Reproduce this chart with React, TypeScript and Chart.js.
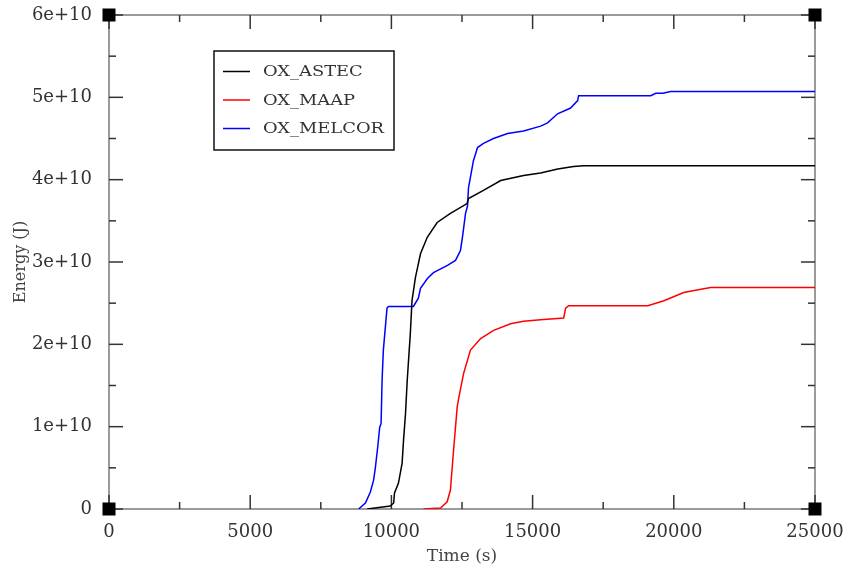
import React, { useEffect, useRef } from 'react';
import { Chart, registerables } from 'chart.js';
Chart.register(...registerables);

const X_MIN = 0;
const X_MAX = 25000;
const X_STEP = 5000;
const X_MINOR = 2500;
const Y_MIN = 0;
const Y_MAX = 6e10;
const Y_STEP = 1e10;
const Y_MINOR = 5e9;

const X_TITLE = 'Time (s)';
const Y_TITLE = 'Energy (J)';

const SERIES_LABELS = ['OX_ASTEC', 'OX_MAAP', 'OX_MELCOR'];
const SERIES_COLORS = ['#000000', '#ff0000', '#0000ff'];

const ASTEC_TIME = [9140, 9960, 10080, 10110, 10250, 10380, 10430, 10500, 10560, 10670, 10730, 10850, 11030, 11270, 11620, 12090, 12680, 12730, 13260, 13870, 14680, 15280, 15890, 16450, 16810, 25000];
const ASTEC_ENERGY = [0, 0.036e10, 0.073e10, 0.194e10, 0.315e10, 0.558e10, 0.836e10, 1.16e10, 1.56e10, 2.13e10, 2.53e10, 2.81e10, 3.10e10, 3.30e10, 3.48e10, 3.59e10, 3.71e10, 3.77e10, 3.87e10, 3.99e10, 4.05e10, 4.08e10, 4.13e10, 4.16e10, 4.17e10, 4.17e10];

const MAAP_TIME = [11135, 11740, 11975, 12090, 12210, 12330, 12390, 12560, 12800, 13160, 13620, 14220, 14680, 15280, 16100, 16170, 16280, 19080, 19650, 20350, 20960, 21310, 25000];
const MAAP_ENERGY = [0, 0.012e10, 0.088e10, 0.23e10, 0.75e10, 1.24e10, 1.36e10, 1.65e10, 1.93e10, 2.07e10, 2.17e10, 2.25e10, 2.28e10, 2.30e10, 2.32e10, 2.44e10, 2.47e10, 2.47e10, 2.53e10, 2.63e10, 2.67e10, 2.69e10, 2.69e10];

const MELCOR_TIME = [8840, 9080, 9255, 9370, 9430, 9515, 9585, 9635, 9670, 9715, 9845, 9895, 10780, 10955, 11030, 11275, 11490, 11985, 12270, 12445, 12515, 12625, 12695, 12730, 12905, 13050, 13260, 13615, 14115, 14680, 15285, 15530, 15885, 16345, 16595, 16630, 19185, 19360, 19610, 19895, 25000];
const MELCOR_ENERGY = [0, 0.073e10, 0.206e10, 0.35e10, 0.497e10, 0.75e10, 0.99e10, 1.04e10, 1.56e10, 1.93e10, 2.44e10, 2.46e10, 2.46e10, 2.56e10, 2.68e10, 2.80e10, 2.87e10, 2.96e10, 3.02e10, 3.14e10, 3.30e10, 3.59e10, 3.68e10, 3.90e10, 4.23e10, 4.39e10, 4.44e10, 4.50e10, 4.56e10, 4.59e10, 4.65e10, 4.69e10, 4.80e10, 4.87e10, 4.96e10, 5.02e10, 5.02e10, 5.05e10, 5.05e10, 5.07e10, 5.07e10];

const SERIES_TIME = [ASTEC_TIME, MAAP_TIME, MELCOR_TIME];
const SERIES_ENERGY = [ASTEC_ENERGY, MAAP_ENERGY, MELCOR_ENERGY];

const zip = (xs: number[], ys: number[]) => xs.map((x, i) => ({ x, y: ys[i] }));

const framePlugin = {
  id: 'frame',
  beforeDatasetsDraw(chart: any) {
    const { ctx, chartArea, scales } = chart;
    const { left, right, top, bottom } = chartArea;
    const xs = scales.x;
    const ys = scales.y;
    ctx.save();
    ctx.strokeStyle = '#9a9a9a';
    ctx.lineWidth = 2;
    ctx.strokeRect(left, top, right - left, bottom - top);
    ctx.strokeStyle = '#333';
    ctx.lineWidth = 1.5;
    const seg = (a: number, b: number, c: number, d: number) => {
      ctx.beginPath();
      ctx.moveTo(a, b);
      ctx.lineTo(c, d);
      ctx.stroke();
    };
    for (let v = X_MIN; v <= X_MAX; v += X_MINOR) {
      const px = xs.getPixelForValue(v);
      const len = v % X_STEP === 0 ? 14 : 7;
      seg(px, bottom, px, bottom - len);
      seg(px, top, px, top + len);
    }
    for (let v = Y_MIN; v <= Y_MAX + 1; v += Y_MINOR) {
      const py = ys.getPixelForValue(v);
      const len = Math.abs(v / Y_STEP - Math.round(v / Y_STEP)) < 1e-6 ? 14 : 7;
      seg(left, py, left + len, py);
      seg(right, py, right - len, py);
    }
    ctx.restore();
  },
};

const legendPlugin = {
  id: 'boxLegend',
  afterDraw(chart: any) {
    const { ctx } = chart;
    const bx = 214, by = 51, bw = 180, bh = 99;
    ctx.save();
    ctx.fillStyle = '#ffffff';
    ctx.fillRect(bx, by, bw, bh);
    ctx.strokeStyle = '#111';
    ctx.lineWidth = 1.5;
    ctx.strokeRect(bx, by, bw, bh);
    const rows = [71.5, 100, 128.5];
    ctx.font = '15px "DejaVu Serif"';
    const target = 121;
    const sx = target / ctx.measureText('OX_MELCOR').width;
    SERIES_LABELS.forEach((label, i) => {
      const y = rows[i];
      ctx.strokeStyle = SERIES_COLORS[i];
      ctx.lineWidth = 1.5;
      ctx.beginPath();
      ctx.moveTo(223, y);
      ctx.lineTo(250, y);
      ctx.stroke();
      ctx.save();
      ctx.translate(263, y);
      ctx.scale(sx, 1);
      ctx.fillStyle = '#333';
      ctx.textBaseline = 'middle';
      ctx.textAlign = 'left';
      ctx.fillText(label, 0, 1);
      ctx.restore();
    });
    ctx.restore();
  },
};

export default function App() {
  const ref = useRef<HTMLCanvasElement | null>(null);
  useEffect(() => {
    if (!ref.current) return;
    const lineSets = SERIES_LABELS.map((label, i) => ({
      label,
      data: zip(SERIES_TIME[i], SERIES_ENERGY[i]),
      borderColor: SERIES_COLORS[i],
      backgroundColor: SERIES_COLORS[i],
      borderWidth: 1.5,
      pointRadius: 0,
      tension: 0,
      fill: false,
    }));
    const corners = {
      label: 'corners',
      type: 'scatter' as const,
      data: [
        { x: X_MIN, y: Y_MIN },
        { x: X_MIN, y: Y_MAX },
        { x: X_MAX, y: Y_MAX },
        { x: X_MAX, y: Y_MIN },
      ],
      pointStyle: 'rect',
      pointRadius: 9.2,
      backgroundColor: '#000',
      borderWidth: 0,
      showLine: false,
      clip: false as any,
    };
    const chart = new Chart(ref.current, {
      type: 'line',
      data: { datasets: [...lineSets, corners] as any },
      options: {
        animation: false,
        responsive: false,
        events: [],
        layout: { padding: { top: 15, right: 33, bottom: 0, left: 0 } },
        plugins: { legend: { display: false }, tooltip: { enabled: false } },
        scales: {
          x: {
            type: 'linear',
            min: X_MIN,
            max: X_MAX,
            afterFit: (s: any) => {
              s.height = 61;
              s.paddingLeft = 0;
              s.paddingRight = 0;
            },
            grid: { display: false },
            border: { display: false },
            ticks: {
              stepSize: X_STEP,
              padding: 5,
              color: '#333',
              font: { family: '"DejaVu Serif"', size: 18 },
              maxRotation: 0,
              callback: (v: any) => String(v),
            },
            title: {
              display: true,
              text: X_TITLE,
              color: '#444',
              font: { family: '"DejaVu Serif"', size: 17 },
              padding: { top: 0, bottom: 3 },
            },
          },
          y: {
            type: 'linear',
            min: Y_MIN,
            max: Y_MAX,
            afterFit: (s: any) => {
              s.width = 109;
              s.paddingTop = 0;
              s.paddingBottom = 0;
            },
            grid: { display: false },
            border: { display: false },
            ticks: {
              stepSize: Y_STEP,
              padding: 9,
              color: '#333',
              font: { family: '"DejaVu Serif"', size: 18 },
              callback: (v: any) => (Number(v) === 0 ? '0' : Number(v).toExponential(0)),
            },
            title: {
              display: true,
              text: Y_TITLE,
              color: '#444',
              font: { family: '"DejaVu Serif"', size: 16 },
              padding: { top: 11, bottom: 0 },
            },
          },
        },
      },
      plugins: [framePlugin, legendPlugin],
    });
    return () => chart.destroy();
  }, []);
  return (
    <div style={{ position: 'fixed', left: 0, top: 0, width: 848, height: 570, background: '#fff' }}>
      <canvas ref={ref} width={848} height={570} style={{ display: 'block' }} />
    </div>
  );
}
